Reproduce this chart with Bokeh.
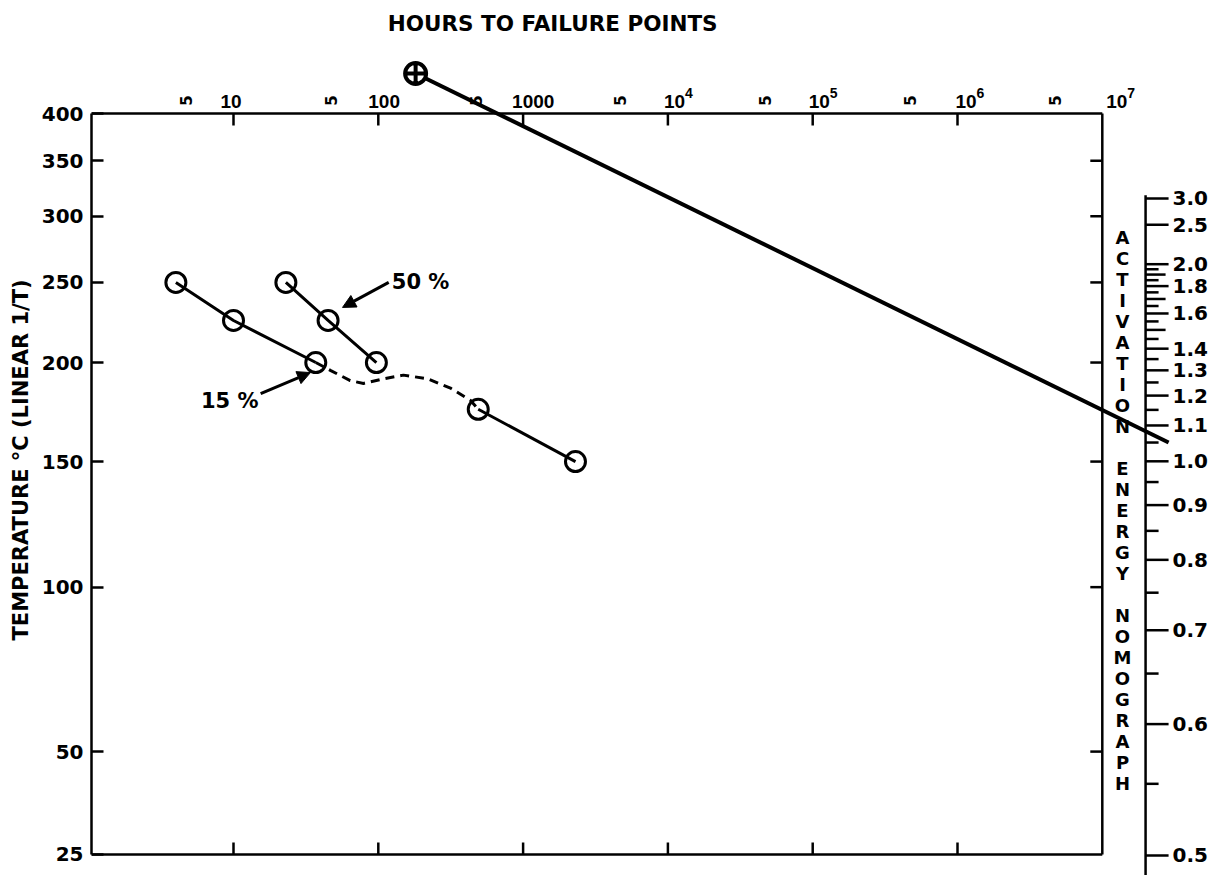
import math
from bokeh.plotting import figure
from bokeh.models import Range1d, FixedTicker, CustomJSTickFormatter, Arrow, NormalHead
from bokeh.core.properties import value
from bokeh.embed import file_html
from bokeh.resources import INLINE

# ---------------- data (hours to failure, temperature in deg C) ----------------
hours_15_hi = [4, 10, 37]
temp_15_hi = [250, 225, 200]
hours_15_dash = [37, 47, 64, 79, 109, 149, 219, 315, 434, 490]
temp_15_dash = [200, 195.5, 190, 188.5, 191, 193, 191, 186, 179.5, 175]
hours_15_lo = [490, 2300]
temp_15_lo = [175, 150]
hours_15_pts = [4, 10, 37, 490, 2300]
temp_15_pts = [250, 225, 200, 175, 150]

hours_50 = [23, 45, 97]
temp_50 = [250, 225, 200]

pivot_hours = [181]
pivot_temp = [449]
nomo_line_hours = [181, 2.87e7]
nomo_line_temp = [449, 158.8]

temp_ticks = [400, 350, 300, 250, 200, 150, 100, 50, 25]
inner_temp_ticks = [350, 300, 250, 200, 150, 100, 50]
hour_decades = [10, 100, 1000, 1e4, 1e5, 1e6, 1e7]
decade_base_labels = ["10", "100", "1000", "10", "10", "10", "10"]
hour_exp_decades = [1e4, 1e5, 1e6, 1e7]
exponent_labels = ["4", "5", "6", "7"]
hour_fives = [5, 50, 500, 5000, 5e4, 5e5, 5e6]
five_labels = ["5"] * 7

energy_major = [3.0, 2.5, 2.0, 1.8, 1.6, 1.4, 1.3, 1.2, 1.1, 1.0, 0.9, 0.8, 0.7, 0.6, 0.5]
energy_major_labels = ["3.0", "2.5", "2.0", "1.8", "1.6", "1.4", "1.3", "1.2",
                       "1.1", "1.0", "0.9", "0.8", "0.7", "0.6", "0.5"]
energy_long = [1.9, 1.7, 1.5]
energy_minor = [1.95, 1.85, 1.75, 1.65, 1.55, 1.45, 1.35, 1.25, 1.15, 1.05,
                0.95, 0.85, 0.75, 0.65, 0.55]

# ---------------- helpers ----------------
def U(tc):
    """linear 1/T axis: 1000 / T(K)"""
    return 1000.0 / (tc + 273.15)

FONT = value("DejaVu Sans")
X_LEFT = 1.0455
X_RIGHT = 1e7
NOMO_X = 1.99e7

p = figure(width=1215, height=875, x_axis_type="log", x_axis_location=None,
           y_axis_location="left",
           x_range=Range1d(X_LEFT, 6.05e7), y_range=Range1d(3.40697, 1.2006),
           output_backend="svg", toolbar_location=None,
           min_border_left=91, min_border_right=0, min_border_top=0, min_border_bottom=0)
p.extra_y_ranges = {"inv_e": Range1d(2.05074, -0.16895)}
p.outline_line_color = None
p.grid.visible = False
p.background_fill_color = "white"
p.border_fill_color = "white"

# ---------------- left temperature axis ----------------
ax = p.yaxis[0]
ax.ticker = FixedTicker(ticks=[U(t) for t in temp_ticks], minor_ticks=[])
ax.formatter = CustomJSTickFormatter(code="return Math.round(1000/tick - 273.15).toFixed(0)")
ax.bounds = (U(400), U(25))
ax.axis_line_width = 2.5
ax.axis_line_color = "black"
ax.major_tick_in = 12
ax.major_tick_out = 0
ax.major_tick_line_width = 2.5
ax.minor_tick_line_color = None
ax.major_label_standoff = 8
ax.major_label_text_font = "DejaVu Sans"
ax.major_label_text_font_style = "bold"
ax.major_label_text_font_size = "20px"
ax.major_label_text_color = "black"
ax.axis_label = "TEMPERATURE \u00b0C (LINEAR 1/T)" + "\u00a0" * 6
ax.axis_label_text_font = "DejaVu Sans"
ax.axis_label_text_font_style = "bold"
ax.axis_label_text_font_size = "21px"
ax.axis_label_text_color = "black"
ax.axis_label_standoff = 6

# ---------------- frame edges & ticks ----------------
p.segment(x0=[X_LEFT, X_RIGHT, X_LEFT], y0=[U(400), U(400), U(25)],
          x1=[X_RIGHT, X_RIGHT, X_RIGHT], y1=[U(400), U(25), U(25)],
          line_width=2.5, color="black")
p.ray(x=hour_decades[:-1], y=[U(400)] * 6, length=12, angle=-math.pi / 2,
      length_units="screen", line_width=2.5, color="black")
p.ray(x=hour_decades[:-1], y=[U(25)] * 6, length=12, angle=math.pi / 2,
      length_units="screen", line_width=2.5, color="black")
p.ray(x=[X_RIGHT] * len(inner_temp_ticks), y=[U(t) for t in inner_temp_ticks], length=12,
      angle=math.pi, length_units="screen", line_width=2.5, color="black")

# top hour labels
p.text(x=hour_decades, y=[U(400)] * 7, text=decade_base_labels,
       x_offset=[-13, -10, -11, -4, -4, -2, 4], y_offset=-6,
       text_align="left", text_baseline="bottom",
       text_font=value("Liberation Sans"), text_font_style="bold",
       text_font_size="19px", text_color="black")
p.text(x=hour_exp_decades, y=[U(400)] * 4, text=exponent_labels,
       x_offset=[17, 17, 19, 25], y_offset=-16,
       text_align="left", text_baseline="bottom",
       text_font=value("Liberation Sans"), text_font_style="bold",
       text_font_size="14px", text_color="black")
p.text(x=hour_fives, y=[U(400)] * 7, text=five_labels,
       x_offset=-4, y_offset=-13, angle=math.pi / 2,
       text_align="center", text_baseline="middle",
       text_font=FONT, text_font_style="bold",
       text_font_size="15px", text_color="black")

# title
p.text(x=[1600], y=[U(521)], text=["HOURS TO FAILURE POINTS"],
       text_align="center", text_baseline="middle",
       text_font=FONT, text_font_style="bold", text_font_size="21.5px", text_color="black")

# ---------------- data series ----------------
p.line(hours_15_hi, [U(t) for t in temp_15_hi], line_width=3, color="black")
p.line(hours_15_dash, [U(t) for t in temp_15_dash], line_width=3, color="black",
       line_dash="9 6")
p.line(hours_15_lo, [U(t) for t in temp_15_lo], line_width=3, color="black")
p.line(hours_50, [U(t) for t in temp_50], line_width=3, color="black")

p.scatter(hours_15_pts, [U(t) for t in temp_15_pts], marker="circle", size=20,
          line_width=3, line_color="black", fill_alpha=0)
p.scatter(hours_50, [U(t) for t in temp_50], marker="circle", size=20,
          line_width=3, line_color="black", fill_alpha=0)

# nomograph construction line and pivot
p.line(nomo_line_hours, [U(t) for t in nomo_line_temp], line_width=4, color="black")
p.scatter(pivot_hours, [U(t) for t in pivot_temp], marker="circle_cross", size=21,
          line_width=4, line_color="black", fill_color="white")

# annotations
p.add_layout(Arrow(end=NormalHead(size=13, fill_color="black", line_color="black"),
                   x_start=118, y_start=U(250), x_end=56.6, y_end=U(233.3),
                   line_width=3, line_color="black"))
p.add_layout(Arrow(end=NormalHead(size=13, fill_color="black", line_color="black"),
                   x_start=15.4, y_start=U(183.1), x_end=34.0, y_end=U(194.4),
                   line_width=3, line_color="black"))
p.text(x=[124], y=[U(250)], text=["50 %"], text_align="left", text_baseline="middle",
       text_font=FONT, text_font_style="bold", text_font_size="21px", text_color="black")
p.text(x=[14.9], y=[U(179)], text=["15 %"], text_align="right", text_baseline="middle",
       text_font=FONT, text_font_style="bold", text_font_size="21px", text_color="black")

# ---------------- activation energy nomograph (1/E scale) ----------------
p.segment(x0=[NOMO_X], y0=[1 / 3.0 - 0.008], x1=[NOMO_X], y1=[2.2],
          line_width=2.5, color="black", y_range_name="inv_e")
p.ray(x=[NOMO_X] * len(energy_major), y=[1 / e for e in energy_major], length=23, angle=0,
      length_units="screen", line_width=2.5, color="black", y_range_name="inv_e")
p.ray(x=[NOMO_X] * len(energy_long), y=[1 / e for e in energy_long], length=20, angle=0,
      length_units="screen", line_width=2.5, color="black", y_range_name="inv_e")
p.ray(x=[NOMO_X] * len(energy_minor), y=[1 / e for e in energy_minor], length=13, angle=0,
      length_units="screen", line_width=2.5, color="black", y_range_name="inv_e")
p.text(x=[NOMO_X] * len(energy_major), y=[1 / e for e in energy_major],
       text=energy_major_labels, x_offset=27, text_align="left", text_baseline="middle",
       text_font=FONT, text_font_style="bold", text_font_size="20px", text_color="black",
       y_range_name="inv_e")

nomo_title = "\n".join(list("ACTIVATION") + [""] + list("ENERGY") + [""] + list("NOMOGRAPH"))
p.text(x=[1.379e7], y=[0.4069], text=[nomo_title], text_align="center", text_baseline="top",
       text_line_height=1.0,
       text_font=FONT, text_font_style="bold", text_font_size="18px", text_color="black",
       y_range_name="inv_e")

open("out.html", "w").write(file_html(p, INLINE))
